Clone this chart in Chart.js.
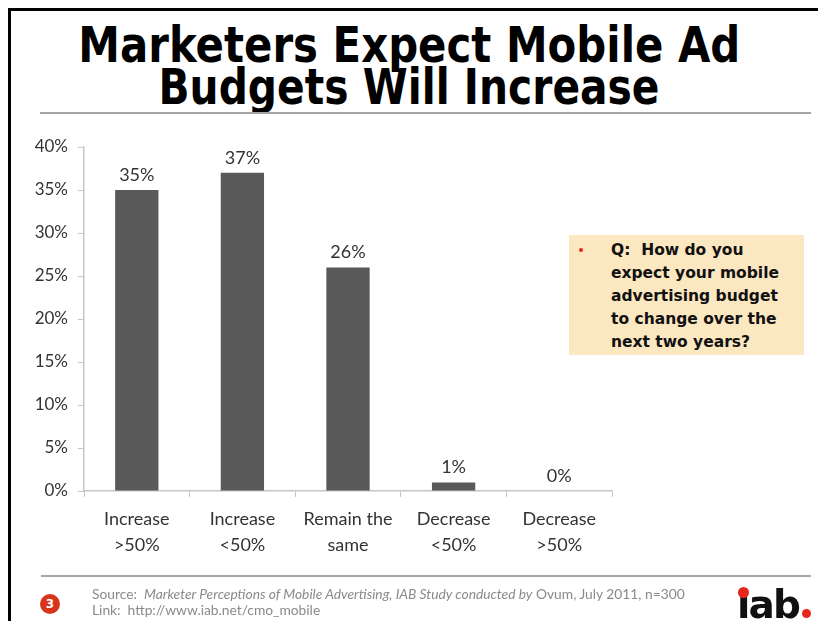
<!DOCTYPE html>
<html>
<head>
<meta charset="utf-8">
<script src="https://cdn.jsdelivr.net/npm/chart.js@4"></script>
<style>
  html, body { margin: 0; padding: 0; background: #fff; }
  #slide { position: relative; width: 818px; height: 621px; overflow: hidden; }
  #chart { position: absolute; left: 0; top: 0; }
  .frame-top  { position: absolute; left: 8px; top: 8px; width: 810px; height: 3px; background: #000; }
  .frame-left { position: absolute; left: 8px; top: 8px; width: 3px; height: 613px; background: #000; }
  .rule { position: absolute; height: 2px; background: #a6a6a6; }
  .title { position: absolute; left: 0; width: 818px; text-align: center; white-space: nowrap;
           font-family: 'DejaVu Sans', sans-serif; font-weight: bold; font-size: 50px; color: #000; line-height: 1; }
  .title span { display: inline-block; transform-origin: center; }
  .callout { position: absolute; left: 569px; top: 235px; width: 235px; height: 120px; background: #fbe7c0; }
  .callout .dot { position: absolute; left: 10px; top: 13px; width: 4px; height: 4px; border-radius: 2px; background: #e8261c; }
  .callout .txt { position: absolute; left: 42px; top: 4px; font-family: 'DejaVu Sans', sans-serif; font-weight: bold;
                  font-size: 15.5px; line-height: 23px; color: #111; white-space: nowrap; }
  .badge { position: absolute; left: 40px; top: 594px; width: 20px; height: 20px; border-radius: 10px; background: #d8341c;
           color: #fff; font: bold 12px 'DejaVu Sans', sans-serif; text-align: center; line-height: 20px; }
  .source { position: absolute; left: 92px; top: 586px; font-family: 'Lato', sans-serif; font-size: 13.8px;
            line-height: 16px; color: #8a8a8a; white-space: nowrap; }
  .logo { position: absolute; left: 737px; top: 585px; font-family: 'DejaVu Sans', sans-serif; font-weight: bold;
          font-size: 39px; letter-spacing: -1.8px; color: #111; line-height: 1; white-space: nowrap; }
  .red-dot { position: absolute; border-radius: 50%; background: #e8261c; }
</style>
</head>
<body>
<div id="slide">
  <div class="frame-top"></div>
  <div class="frame-left"></div>

  <div class="title" style="top: 20px;"><span id="t1">Marketers Expect Mobile Ad</span></div>
  <div class="title" style="top: 62px;"><span id="t2">Budgets Will Increase</span></div>
  <div class="rule" style="left: 40px; top: 112px; width: 771px;"></div>

  <canvas id="chart" width="818" height="621"></canvas>

  <div class="callout">
    <div class="dot"></div>
    <div class="txt">Q:&nbsp; How do you<br>expect your mobile<br>advertising budget<br>to change over the<br>next two years?</div>
  </div>

  <div class="rule" style="left: 41px; top: 575px; width: 770px;"></div>
  <div class="badge">3</div>
  <div class="source">Source:&nbsp; <i>Marketer Perceptions of Mobile Advertising, IAB Study conducted by</i> Ovum, July 2011, n=300<br>Link:&nbsp; http://www.iab.net/cmo_mobile</div>
  <div class="logo">iab</div>
  <div class="red-dot" style="left: 738px; top: 587px; width: 11px; height: 11px;"></div>
  <div class="red-dot" style="left: 802px; top: 609px; width: 9px; height: 9px;"></div>
</div>

<script>
// answer categories (two-line axis labels)
const CATEGORIES = [
  ['Increase', '>50%'],
  ['Increase', '<50%'],
  ['Remain the', 'same'],
  ['Decrease', '<50%'],
  ['Decrease', '>50%']
];

// share of marketers, %
const SHARES = [35, 37, 26, 1, 0];

const Y_MIN  = 0;
const Y_MAX  = 40;
const Y_STEP = 5;

const CHART_FONT = "'Lato', sans-serif";
const BAR_COLOR  = '#595959';
const AXIS_COLOR = '#c6c6c6';
const TEXT_COLOR = '#333333';

// squeeze the heavy headline into its box
function fitTitle(id, width) {
  const el = document.getElementById(id);
  const w = el.getBoundingClientRect().width;
  el.style.transform = 'scaleX(' + (width / w) + ')';
}
fitTitle('t1', 662);
fitTitle('t2', 501);

const valueLabels = {
  id: 'valueLabels',
  afterDatasetsDraw(chart) {
    const { ctx } = chart;
    const meta = chart.getDatasetMeta(0);
    ctx.save();
    ctx.font = '18px ' + CHART_FONT;
    ctx.fillStyle = TEXT_COLOR;
    ctx.textAlign = 'center';
    ctx.textBaseline = 'alphabetic';
    meta.data.forEach((bar, i) => {
      ctx.fillText(SHARES[i] + '%', bar.x, bar.y - 9);
    });
    ctx.restore();
  }
};

new Chart(document.getElementById('chart'), {
  type: 'bar',
  data: {
    labels: CATEGORIES,
    datasets: [{
      data: SHARES,
      backgroundColor: BAR_COLOR,
      borderWidth: 0,
      barPercentage: 0.41,
      categoryPercentage: 1
    }]
  },
  options: {
    responsive: false,
    animation: false,
    devicePixelRatio: 1,
    layout: { padding: { left: 0, right: 206, top: 147, bottom: 0 } },
    plugins: {
      legend: { display: false },
      tooltip: { enabled: false }
    },
    scales: {
      x: {
        afterFit(scale) { scale.height = 130; },
        grid: {
          offset: true,
          drawOnChartArea: false,
          color: AXIS_COLOR,
          tickLength: 6
        },
        border: { color: AXIS_COLOR, width: 1.5 },
        ticks: {
          font: { family: CHART_FONT, size: 18, lineHeight: 1.45 },
          color: TEXT_COLOR,
          padding: 9,
          maxRotation: 0,
          autoSkip: false
        }
      },
      y: {
        min: Y_MIN,
        max: Y_MAX,
        afterFit(scale) { scale.width = 84; },
        grid: {
          drawOnChartArea: false,
          color: AXIS_COLOR,
          tickLength: 6
        },
        border: { color: AXIS_COLOR, width: 1.5 },
        ticks: {
          stepSize: Y_STEP,
          font: { family: CHART_FONT, size: 17 },
          color: TEXT_COLOR,
          padding: 10,
          callback: v => v + '%'
        }
      }
    }
  },
  plugins: [valueLabels]
});
</script>
</body>
</html>
